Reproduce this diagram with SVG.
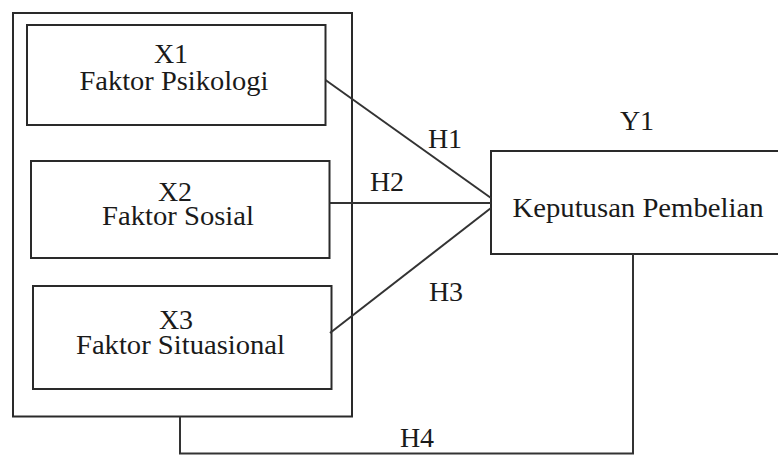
<svg xmlns="http://www.w3.org/2000/svg" width="778" height="455" viewBox="0 0 778 455">
<style>
.box{fill:#fff;stroke:#2a2a2a;stroke-width:2}
.ln{fill:none;stroke:#333;stroke-width:2}
.t{font-family:"Liberation Serif","Times New Roman",serif;font-size:28px;fill:#1a1a1a;text-anchor:middle}
.sm{font-size:27px}
</style>
<rect width="778" height="455" fill="#fff"/>
<g id="group-X">
<rect class="box" x="13" y="13" width="339" height="403.5"/>
</g>
<g id="X1">
<rect class="box" x="27" y="25" width="298.5" height="100"/>
<text class="t" x="171" y="63">X1</text>
<text class="t sm" x="174" y="90" textLength="189" lengthAdjust="spacingAndGlyphs">Faktor Psikologi</text>
</g>
<g id="X2">
<rect class="box" x="31" y="161" width="298.5" height="97"/>
<text class="t" x="175" y="201">X2</text>
<text class="t sm" x="178" y="225" textLength="152" lengthAdjust="spacingAndGlyphs">Faktor Sosial</text>
</g>
<g id="X3">
<rect class="box" x="33" y="286" width="298.5" height="103"/>
<text class="t" x="176" y="329">X3</text>
<text class="t sm" x="180.5" y="354" textLength="209" lengthAdjust="spacingAndGlyphs">Faktor Situasional</text>
</g>
<g id="Y1">
<rect class="box" x="491" y="151" width="300" height="103"/>
<text class="t" x="637" y="130">Y1</text>
<text class="t sm" x="638" y="217" textLength="251" lengthAdjust="spacingAndGlyphs">Keputusan Pembelian</text>
</g>
<g id="connectors">
<line class="ln" x1="325.5" y1="80" x2="491" y2="198"/>
<line class="ln" x1="329.5" y1="203" x2="491" y2="203"/>
<line class="ln" x1="330" y1="333" x2="491" y2="208"/>
<polyline class="ln" points="180,416.5 180,453.5 633,453.5 633,254"/>
<text class="t" x="445" y="148">H1</text>
<text class="t" x="387" y="191">H2</text>
<text class="t" x="446" y="301">H3</text>
<text class="t" x="417" y="447">H4</text>
</g>
</svg>
